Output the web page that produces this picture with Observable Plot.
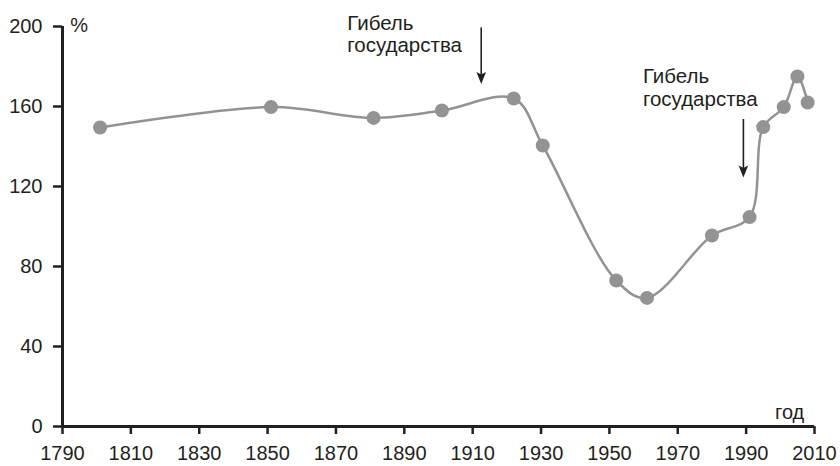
<!DOCTYPE html>
<html>
<head>
<meta charset="utf-8">
<script src="https://cdn.jsdelivr.net/npm/d3@7"></script>
<script src="https://cdn.jsdelivr.net/npm/@observablehq/plot@0.6"></script>
<style>
  html, body { margin: 0; padding: 0; background: #fff; }
</style>
</head>
<body>
<div id="chart"></div>
<script>
const years  = [1801, 1851, 1881, 1901, 1922, 1930.5, 1952, 1961, 1980, 1991, 1995, 2001, 2005, 2008];
const values = [149.5, 159.7, 154.3, 158, 164, 140.5, 73, 64.3, 95.5, 104.7, 149.7, 159.7, 175, 162];
const xTicks = [1790, 1810, 1830, 1850, 1870, 1890, 1910, 1930, 1950, 1970, 1990, 2010];
const yTicks = [0, 40, 80, 120, 160, 200];

const noteText = ["Гибель\nгосударства", "Гибель\nгосударства"];
const noteX    = [1873.3, 1959.8];
const noteY    = [206.3, 179.5];
const arrowX   = [1912.5, 1989.2];
const arrowY1  = [199.3, 153.5];
const arrowY2  = [171.3, 124.5];

const data = years.map((x, i) => ({x, y: values[i]}));
const notes = noteText.map((t, i) => ({t, x: noteX[i], y: noteY[i]}));
const arrows = arrowX.map((x, i) => ({x, y1: arrowY1[i], y2: arrowY2[i]}));

const ink = "#231f20";
const grey = "#939393";

// arrow head shape: tip at the origin, pointing down
const headSymbol = {
  draw(context) {
    context.moveTo(0, 0);
    context.lineTo(-4.8, -12);
    context.lineTo(0, -9.5);
    context.lineTo(4.8, -12);
    context.closePath();
  }
};

const chart = Plot.plot({
  width: 840,
  height: 466,
  marginLeft: 62,
  marginRight: 26,
  marginTop: 26,
  marginBottom: 40,
  style: {fontFamily: "'Liberation Sans', Arial, sans-serif", color: ink, background: "#fff"},
  x: {domain: [1790, 2010], axis: null},
  y: {domain: [0, 200], axis: null},
  marks: [
    Plot.axisX({ticks: xTicks, tickFormat: d => String(d), tickSize: 8, tickPadding: 11, fontSize: 20, strokeWidth: 2.5, stroke: ink, label: null}),
    Plot.axisY({ticks: yTicks, tickSize: 9, tickPadding: 11, fontSize: 20, strokeWidth: 2.5, stroke: ink, label: null}),
    Plot.ruleY([0], {stroke: ink, strokeWidth: 3}),
    Plot.ruleX([1790], {stroke: ink, strokeWidth: 3}),
    Plot.line(data, {x: "x", y: "y", curve: "catmull-rom", stroke: grey, strokeWidth: 2.5}),
    Plot.dot(data, {x: "x", y: "y", r: 7, fill: grey, stroke: null}),
    Plot.ruleX(arrows, {x: "x", y1: "y1", y2: d => d.y2 + 3, stroke: ink, strokeWidth: 1.6}),
    Plot.dot(arrows, {x: "x", y: "y2", symbol: headSymbol, r: 5, fill: ink, stroke: null}),
    Plot.text(notes, {x: "x", y: "y", text: "t", textAnchor: "start", lineAnchor: "top", fontSize: 20.5, lineHeight: 1.09, fill: ink}),
    Plot.text(["%"], {x: 1792.3, y: 200.5, text: d => d, textAnchor: "start", fontSize: 20, fill: ink}),
    Plot.text(["год"], {x: 2007, y: 7.2, text: d => d, textAnchor: "end", fontSize: 20, fill: ink})
  ]
});
document.getElementById("chart").appendChild(chart);
</script>
</body>
</html>
